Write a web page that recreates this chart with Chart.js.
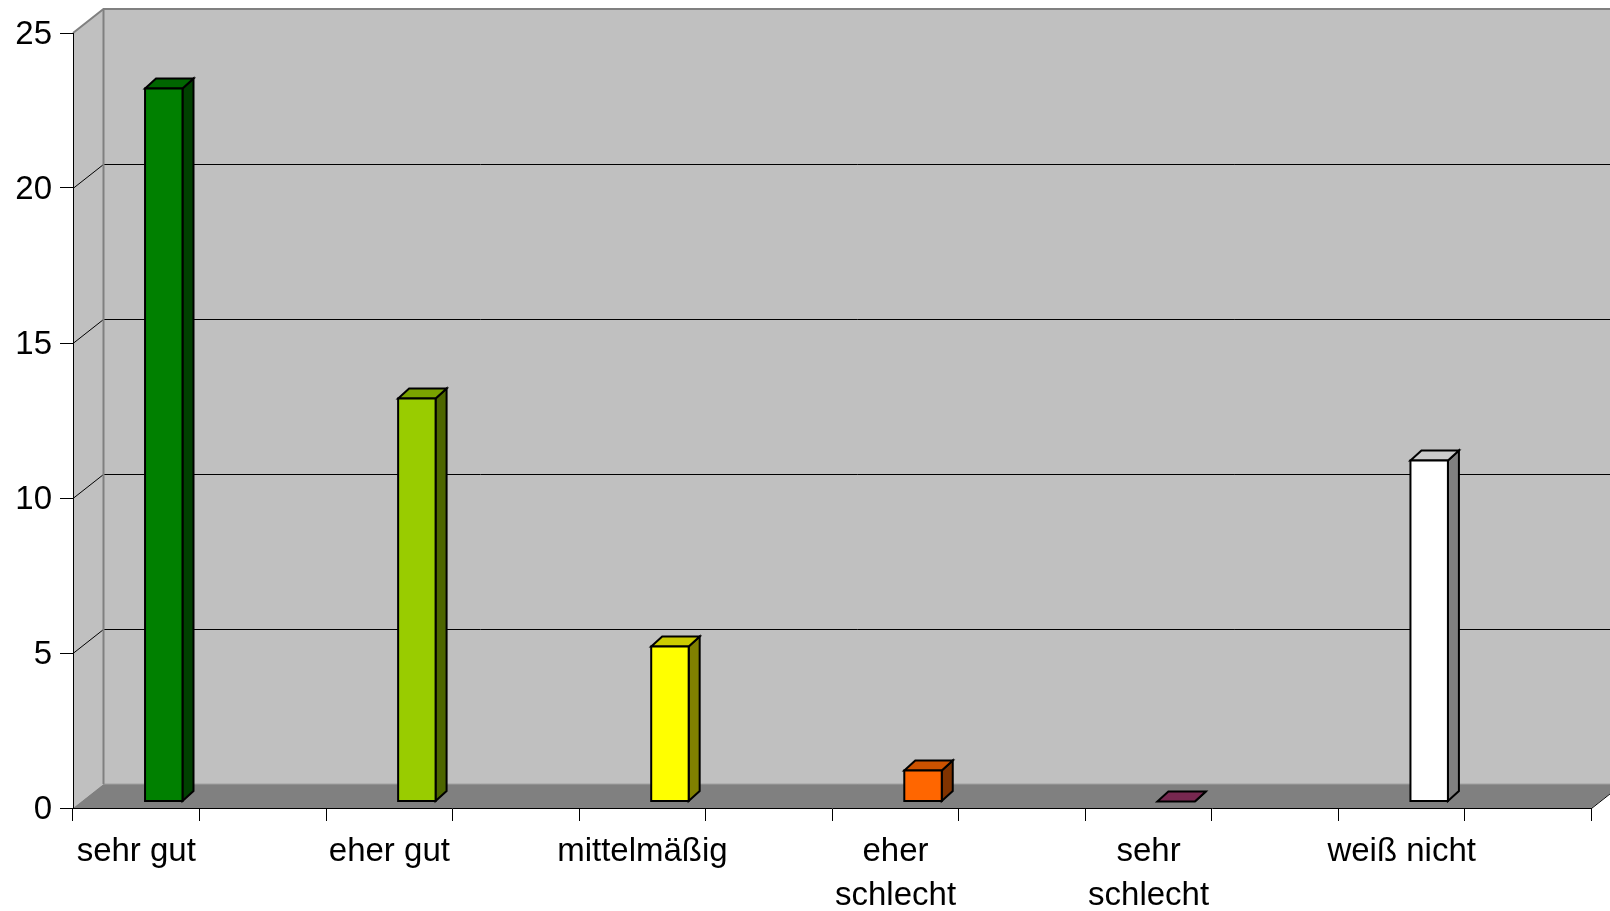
<!DOCTYPE html>
<html>
<head>
<meta charset="utf-8">
<script src="https://cdn.jsdelivr.net/npm/chart.js@4"></script>
<style>
  html, body { margin: 0; padding: 0; background: #ffffff; }
  canvas { display: block; }
</style>
</head>
<body>
<canvas id="chart" width="1610" height="911"></canvas>
<script>
// Survey answers and how often each was given
const categories = ['sehr gut', 'eher gut', 'mittelmäßig', ['eher', 'schlecht'], ['sehr', 'schlecht'], 'weiß nicht'];
const values = [23, 13, 5, 1, 0, 11];

// Face colours of each column (front / top / right side)
const frontColors = ['#008000', '#99CC00', '#FFFF00', '#FF6600', '#993366', '#FFFFFF'];
const topColors   = ['#006600', '#7AA300', '#CCCC00', '#CC5200', '#772850', '#CCCCCC'];
const sideColors  = ['#004000', '#4D6600', '#808000', '#803300', '#4D1A33', '#808080'];

// Value axis
const yMin = 0;
const yMax = 25;
const yStep = 5;

// Every answer occupies two slots on the category axis: its label slot and an empty one
const slotLabels = [];
const slotValues = [];
const slotIndex = [];
categories.forEach((c, i) => {
  slotLabels.push(c, '');
  slotValues.push(values[i], null);
  slotIndex.push(i, -1);
});

// Oblique projection settings
const WALL_DEPTH = { x: 30.5, y: -24 };   // floor / back wall offset
const BAR_DEPTH = { x: 11, y: -10 };      // thickness of each column
const BAR_SHIFT = { x: 27.5, y: -6.5 };   // columns stand inside the floor

function poly(ctx, pts, fill, stroke, lw) {
  ctx.beginPath();
  ctx.moveTo(pts[0][0], pts[0][1]);
  for (let i = 1; i < pts.length; i++) ctx.lineTo(pts[i][0], pts[i][1]);
  ctx.closePath();
  if (fill) { ctx.fillStyle = fill; ctx.fill(); }
  if (stroke) { ctx.strokeStyle = stroke; ctx.lineWidth = lw; ctx.stroke(); }
}

function line(ctx, pts, color, lw) {
  ctx.beginPath();
  ctx.moveTo(pts[0][0], pts[0][1]);
  for (let i = 1; i < pts.length; i++) ctx.lineTo(pts[i][0], pts[i][1]);
  ctx.strokeStyle = color;
  ctx.lineWidth = lw;
  ctx.stroke();
}

const box3d = {
  id: 'box3d',
  beforeDraw(chart) {
    const ctx = chart.ctx;
    const { left, right, top, bottom } = chart.chartArea;
    const ys = chart.scales.y;
    const dx = WALL_DEPTH.x, dy = WALL_DEPTH.y;
    ctx.save();
    // back wall
    poly(ctx, [[left + dx, top + dy], [right + dx, top + dy], [right + dx, bottom + dy], [left + dx, bottom + dy]], '#C0C0C0');
    // left side wall
    poly(ctx, [[left, top], [left + dx, top + dy], [left + dx, bottom + dy], [left, bottom]], '#C0C0C0');
    // floor
    poly(ctx, [[left, bottom], [left + dx, bottom + dy], [right + dx, bottom + dy], [right, bottom]], '#808080');
    // gridlines across side wall and back wall
    for (let v = yMin + yStep; v < yMax; v += yStep) {
      const y = Math.round(ys.getPixelForValue(v)) + 0.5;
      line(ctx, [[left, y], [left + dx, y + dy], [right + dx + 2, y + dy]], '#000000', 1);
    }
    // wall borders
    line(ctx, [[left + dx, bottom + dy], [right + dx, bottom + dy]], '#A0A0A0', 1);
    line(ctx, [[left, top], [left + dx, top + dy], [right + dx + 2, top + dy]], '#808080', 2);
    line(ctx, [[left + dx, top + dy], [left + dx, bottom + dy]], '#808080', 2);
    // right edge of the floor
    line(ctx, [[right, bottom + 0.5], [right + dx, bottom + dy + 0.5]], '#000000', 1);
    ctx.restore();
  },
  afterDatasetsDraw(chart) {
    const ctx = chart.ctx;
    const meta = chart.getDatasetMeta(0);
    ctx.save();
    ctx.lineJoin = 'miter';
    meta.data.forEach((el, i) => {
      const ci = slotIndex[i];
      if (ci < 0 || slotValues[i] == null) return;
      const p = el.getProps(['x', 'y', 'base', 'width'], true);
      const xl = p.x - p.width / 2 + BAR_SHIFT.x;
      const xr = p.x + p.width / 2 + BAR_SHIFT.x;
      const yt = p.y + BAR_SHIFT.y;
      const yb = p.base + BAR_SHIFT.y;
      const bx = BAR_DEPTH.x, by = BAR_DEPTH.y;
      // right side
      poly(ctx, [[xr, yb], [xr + bx, yb + by], [xr + bx, yt + by], [xr, yt]], sideColors[ci], '#000000', 2);
      // top
      poly(ctx, [[xl, yt], [xr, yt], [xr + bx, yt + by], [xl + bx, yt + by]], topColors[ci], '#000000', 2);
      // front
      if (yb - yt > 0.5) {
        poly(ctx, [[xl, yt], [xr, yt], [xr, yb], [xl, yb]], frontColors[ci], '#000000', 2);
      }
    });
    ctx.restore();
  }
};

Chart.defaults.font.family = '"Liberation Sans", Arial, sans-serif';
Chart.defaults.font.size = 33;
Chart.defaults.color = '#000000';

new Chart(document.getElementById('chart'), {
  type: 'bar',
  data: {
    labels: slotLabels,
    datasets: [{
      data: slotValues,
      backgroundColor: 'rgba(0,0,0,0)',
      borderWidth: 0,
      categoryPercentage: 1,
      barPercentage: 0.296
    }]
  },
  options: {
    responsive: false,
    devicePixelRatio: 1,
    animation: false,
    layout: { padding: { top: 33, right: 18.5, left: 0, bottom: 0 } },
    plugins: {
      legend: { display: false },
      tooltip: { enabled: false }
    },
    scales: {
      x: {
        type: 'category',
        offset: true,
        grid: { offset: true, drawOnChartArea: false, drawTicks: true, tickLength: 13, color: '#000000', lineWidth: 1 },
        border: { color: '#000000', width: 1 },
        ticks: {
          autoSkip: false,
          maxRotation: 0,
          minRotation: 0,
          padding: 9,
          font: { size: 33, lineHeight: 1.34 }
        },
        afterFit(scale) { scale.height = 103; }
      },
      y: {
        min: yMin,
        max: yMax,
        grid: { drawOnChartArea: false, drawTicks: true, tickLength: 13, color: '#000000', lineWidth: 1 },
        border: { color: '#000000', width: 1 },
        ticks: { stepSize: yStep, padding: 8, labelOffset: 2, font: { size: 33 } },
        afterFit(scale) { scale.width = 73; }
      }
    }
  },
  plugins: [box3d]
});
</script>
</body>
</html>
